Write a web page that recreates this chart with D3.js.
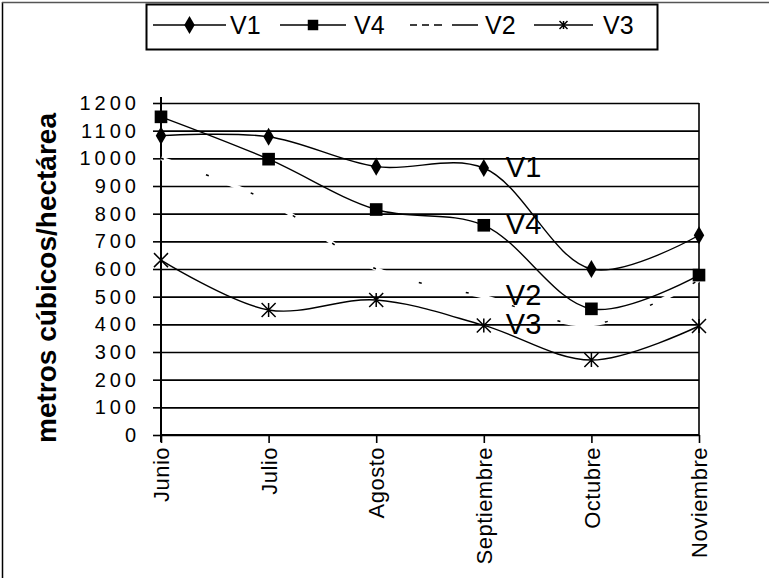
<!DOCTYPE html>
<html>
<head>
<meta charset="utf-8">
<script src="https://cdn.jsdelivr.net/npm/d3@7"></script>
<style>
  body { margin: 0; background: #fff; }
  svg { display: block; font-family: "Liberation Sans", Arial, sans-serif; }
</style>
</head>
<body>
<svg id="chart" width="769" height="578"></svg>
<script>
// months on the x axis
var months = ["Junio", "Julio", "Agosto", "Septiembre", "Octubre", "Noviembre"];
// series values (metros cúbicos/hectárea)
var v1 = [1082, 1078, 970, 965, 600, 722];
var v4 = [1150, 997, 815, 758, 456, 578];
var v2 = [1000, 845, 600, 500, 400, 560];
var v3 = [632, 452, 488, 396, 271, 394];
var yTicks = [0, 100, 200, 300, 400, 500, 600, 700, 800, 900, 1000, 1100, 1200];

var svg = d3.select("#chart");

// outer frame of the scanned chart
svg.append("line").attr("x1", 2.5).attr("y1", 2).attr("x2", 2.5).attr("y2", 578)
   .attr("stroke", "#000").attr("stroke-width", 1.5);
svg.append("line").attr("x1", 2).attr("y1", 2.5).attr("x2", 769).attr("y2", 2.5)
   .attr("stroke", "#555").attr("stroke-width", 1.5);

var plotLeft = 161, plotRight = 699, plotTop = 103, plotBottom = 435;

var x = d3.scalePoint().domain(months).range([plotLeft, plotRight]);
var y = d3.scaleLinear().domain([0, 1200]).range([plotBottom, plotTop]);

// gridlines
svg.append("g")
   .attr("transform", "translate(" + plotLeft + ",0)")
   .call(d3.axisLeft(y).tickValues(yTicks).tickSize(-(plotRight - plotLeft)).tickFormat(""))
   .call(function(g){
     g.select(".domain").remove();
     g.selectAll("line").attr("stroke", "#000").attr("stroke-width", 1.6);
   });

// plot right border
svg.append("line").attr("x1", plotRight).attr("x2", plotRight).attr("y1", plotTop).attr("y2", plotBottom)
   .attr("stroke", "#000").attr("stroke-width", 1.6);

// y axis
svg.append("g")
   .attr("transform", "translate(" + plotLeft + ",0)")
   .call(d3.axisLeft(y).tickValues(yTicks).tickSize(8).tickPadding(13).tickFormat(d3.format("d")))
   .call(function(g){
     g.select(".domain").attr("stroke", "#000").attr("stroke-width", 2)
      .attr("d", "M0," + (plotTop - 6) + "V" + (plotBottom + 7));
     g.selectAll("line").attr("stroke", "#000").attr("stroke-width", 1.6);
     g.selectAll("text").attr("font-size", 20).attr("fill", "#000")
      .attr("font-family", "'Liberation Sans', Arial, sans-serif")
      .style("letter-spacing", "4px");
   });

// x axis
svg.append("g")
   .attr("transform", "translate(0," + plotBottom + ")")
   .call(d3.axisBottom(x).tickSize(8).tickPadding(12))
   .call(function(g){
     g.select(".domain").attr("stroke", "#000").attr("stroke-width", 2)
      .attr("d", "M" + plotLeft + ",0H" + plotRight);
     g.selectAll("line").attr("stroke", "#000").attr("stroke-width", 1.6);
     g.selectAll("text")
      .attr("font-size", 22).attr("fill", "#000")
      .attr("font-family", "'Liberation Sans', Arial, sans-serif")
      .style("letter-spacing", "0.5px")
      .attr("transform", "rotate(-90)")
      .attr("text-anchor", "end")
      .attr("x", -12).attr("y", 0).attr("dy", "0.35em");
   });

// y axis title
svg.append("text")
   .attr("transform", "translate(56,278) rotate(-90)")
   .attr("text-anchor", "middle")
   .attr("font-size", 28).attr("font-weight", "bold")
   .text("metros cúbicos/hectárea");

var line = d3.line()
  .x(function(d, i){ return x(months[i]); })
  .y(function(d){ return y(d); })
  .curve(d3.curveCatmullRom.alpha(0.5));

// V2: light dashed line, only shows as breaks in the gridlines
svg.append("path").datum(v2).attr("d", line)
   .attr("fill", "none").attr("stroke", "#fff").attr("stroke-width", 4);
svg.append("path").datum(v2).attr("d", line)
   .attr("fill", "none").attr("stroke", "#000").attr("stroke-width", 1.5)
   .attr("stroke-dasharray", "3,45");

function drawSeries(vals){
  svg.append("path").datum(vals).attr("d", line)
     .attr("fill", "none").attr("stroke", "#000").attr("stroke-width", 1.4);
}
drawSeries(v1);
drawSeries(v4);
drawSeries(v3);

var diamond = d3.symbol().type(d3.symbolDiamond).size(95);
var square = d3.symbol().type(d3.symbolSquare).size(160);

svg.append("g").selectAll("path").data(v1).enter().append("path")
   .attr("d", diamond)
   .attr("transform", function(d, i){ return "translate(" + x(months[i]) + "," + y(d) + ")"; });
svg.append("g").selectAll("path").data(v4).enter().append("path")
   .attr("d", square)
   .attr("transform", function(d, i){ return "translate(" + x(months[i]) + "," + y(d) + ")"; });

// V3 star marker
function star(g, cx, cy, r){
  g.append("path")
   .attr("d", "M" + (cx - r) + "," + (cy - r) + "L" + (cx + r) + "," + (cy + r) +
              "M" + (cx - r) + "," + (cy + r) + "L" + (cx + r) + "," + (cy - r) +
              "M" + cx + "," + (cy - r) + "L" + cx + "," + (cy + r))
   .attr("stroke", "#000").attr("stroke-width", 1.5).attr("fill", "none");
}
var starG = svg.append("g");
v3.forEach(function(d, i){ star(starG, x(months[i]), y(d), 7); });

// series name labels at Septiembre
var labels = [["V1", v1], ["V4", v4], ["V2", v2], ["V3", v3]];
svg.append("g").selectAll("text").data(labels).enter().append("text")
   .attr("x", x("Septiembre") + 22)
   .attr("y", function(d){ return y(d[1][3]); })
   .attr("dy", "0.3em")
   .attr("font-size", 29)
   .text(function(d){ return d[0]; });

// legend
var lg = svg.append("g");
lg.append("rect").attr("x", 146.5).attr("y", 4.5).attr("width", 511).attr("height", 45)
  .attr("fill", "#fff").attr("stroke", "#000").attr("stroke-width", 2);
var ly = 25;
var legendItems = [
  { name: "V1", x0: 153, x1: 226, tx: 230, mark: "diamond" },
  { name: "V4", x0: 280, x1: 346, tx: 354, mark: "square" },
  { name: "V2", x0: 410, x1: 478, tx: 485, mark: "none" },
  { name: "V3", x0: 534, x1: 593, tx: 603, mark: "star" }
];
legendItems.forEach(function(it){
  var ln = lg.append("line").attr("x1", it.x0).attr("x2", it.x1).attr("y1", ly).attr("y2", ly)
    .attr("stroke", "#000").attr("stroke-width", 1.6);
  if (it.mark === "none") ln.attr("stroke-dasharray", "7,5,7,5,8,10,26");
  var cx = (it.x0 + it.x1) / 2;
  if (it.mark === "diamond")
    lg.append("path").attr("d", diamond).attr("transform", "translate(" + cx + "," + ly + ")");
  if (it.mark === "square")
    lg.append("path").attr("d", d3.symbol().type(d3.symbolSquare).size(110)).attr("transform", "translate(" + cx + "," + ly + ")");
  if (it.mark === "star") star(lg, cx, ly, 4);
  lg.append("text").attr("x", it.tx).attr("y", ly).attr("dy", "0.36em")
    .attr("font-size", 25).text(it.name);
});
</script>
</body>
</html>
